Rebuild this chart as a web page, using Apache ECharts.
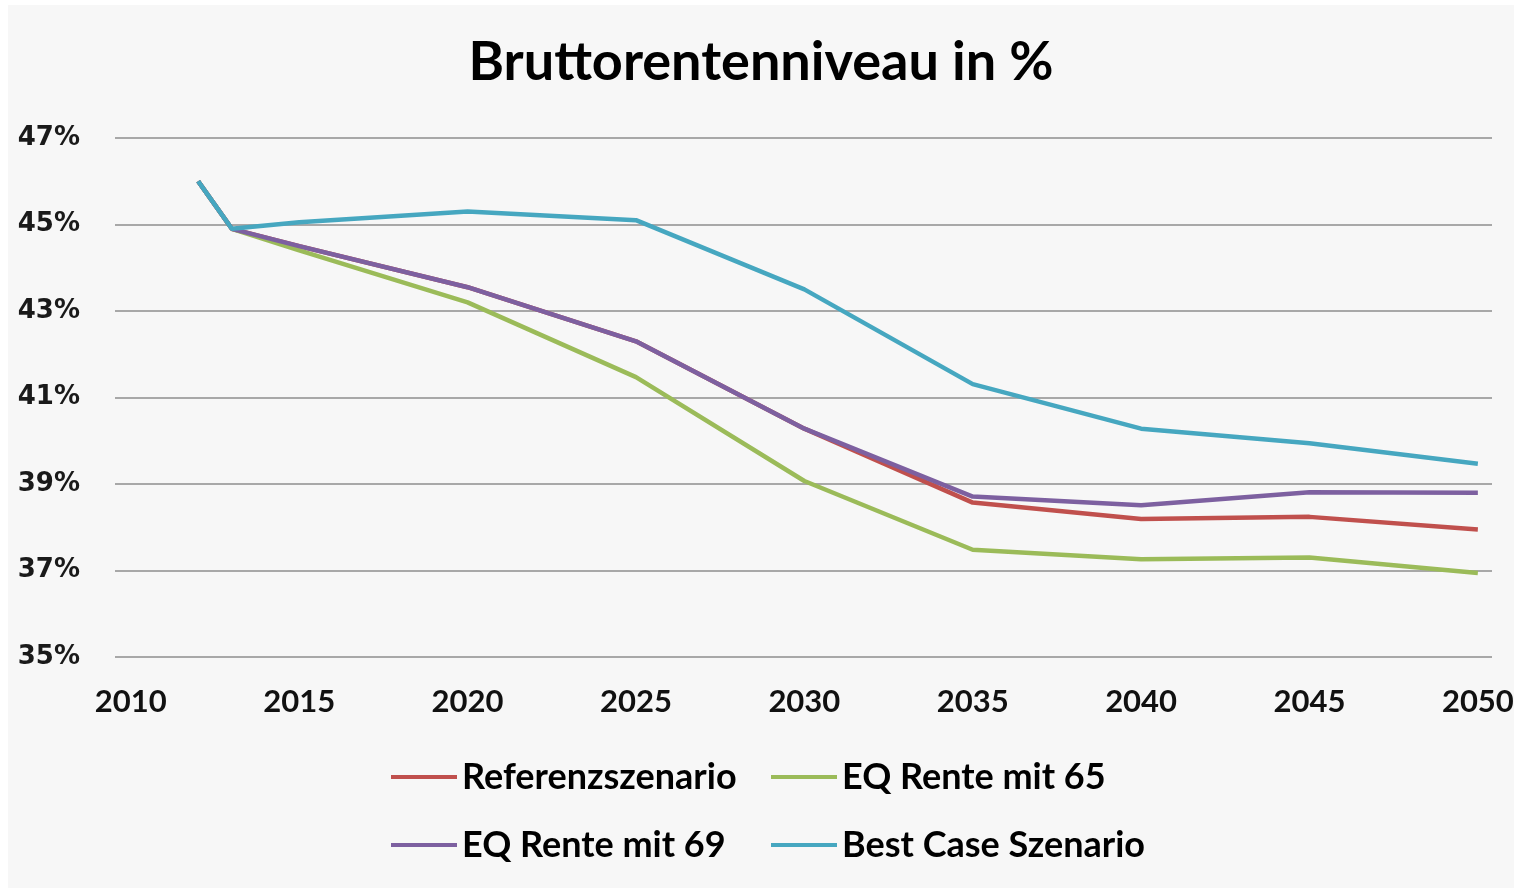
<!DOCTYPE html>
<html>
<head>
<meta charset="utf-8">
<script src="https://cdn.jsdelivr.net/npm/echarts@6/dist/echarts.min.js"></script>
<style>
html,body{margin:0;padding:0;background:#ffffff;}
#chart{width:1522px;height:888px;}
</style>
</head>
<body>
<div id="chart"></div>
<script>
const years = [2012, 2013, 2015, 2020, 2025, 2030, 2035, 2040, 2045, 2050];
const referenz  = [46.0, 44.9, 44.5, 43.55, 42.3, 40.28, 38.57, 38.19, 38.24, 37.95];
const eqRente65 = [46.0, 44.9, 44.4, 43.2, 41.47, 39.07, 37.48, 37.26, 37.3, 36.94];
const eqRente69 = [46.0, 44.9, 44.5, 43.55, 42.3, 40.28, 38.71, 38.51, 38.81, 38.8];
const bestCase  = [46.0, 44.9, 45.05, 45.3, 45.1, 43.5, 41.31, 40.28, 39.94, 39.47];
const xTicks = [2010, 2015, 2020, 2025, 2030, 2035, 2040, 2045, 2050];
const seriesNames = ['Referenzszenario', 'EQ Rente mit 65', 'EQ Rente mit 69', 'Best Case Szenario'];
const seriesValues = [referenz, eqRente65, eqRente69, bestCase];
const colors = ['#c0504d', '#9bbb59', '#7d60a0', '#46a7c0'];
const titleText = 'Bruttorentenniveau in %';

const chart = echarts.init(document.getElementById('chart'));
const legendText = {fontFamily: 'Lato', fontWeight: 'bold', fontSize: 36, color: '#000'};
const legendPos = [[391, 759], [771, 759], [391, 827], [771, 827]];
const option = {
  backgroundColor: '#ffffff',
  animation: false,
  graphic: [{
    type: 'rect', z: -10, silent: true,
    shape: {x: 8, y: 5, width: 1506, height: 883},
    style: {fill: '#f7f7f7'}
  }],
  title: {
    text: titleText, left: 'center', top: 31,
    textStyle: {fontFamily: 'Lato', fontWeight: 'bold', fontSize: 54, color: '#000'}
  },
  legend: seriesNames.map((n, i) => ({
    data: [n], left: legendPos[i][0], top: legendPos[i][1], icon: 'rect',
    itemWidth: 66, itemHeight: 4, padding: 0, textStyle: legendText
  })),
  grid: {left: 115, right: 30, top: 138, bottom: 231, containLabel: false},
  xAxis: {
    type: 'value', min: 2009.53, max: 2050.42,
    axisLine: {show: false}, axisTick: {show: false}, splitLine: {show: false},
    axisLabel: {
      customValues: xTicks, formatter: v => String(v), margin: 29,
      fontFamily: 'Lato', fontWeight: 'bold', fontSize: 31, color: '#111'
    }
  },
  yAxis: {
    type: 'value', min: 35, max: 47, interval: 2,
    axisLine: {show: false}, axisTick: {show: false},
    splitLine: {lineStyle: {color: '#a8a8a8', width: 2}},
    axisLabel: {
      formatter: '{value}%', margin: 35,
      fontFamily: 'DejaVu Sans', fontWeight: 'bold', fontSize: 26, color: '#1a1a1a'
    }
  },
  series: seriesNames.map((name, i) => ({
    name: name, type: 'line', showSymbol: false, symbol: 'none',
    data: years.map((y, j) => [y, seriesValues[i][j]]),
    lineStyle: {width: 4.5, color: colors[i]}, itemStyle: {color: colors[i]}
  }))
};
chart.setOption(option);
</script>
</body>
</html>
